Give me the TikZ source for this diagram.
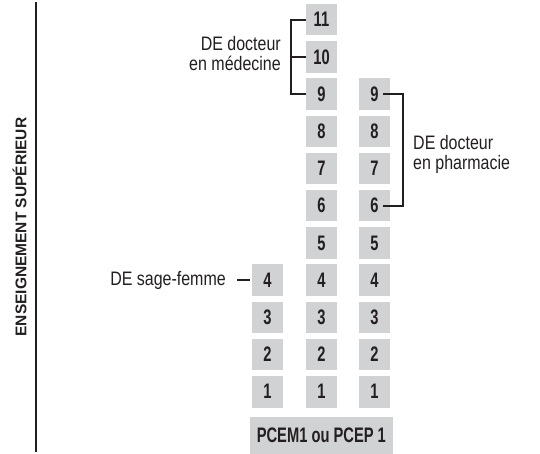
\documentclass[tikz,border=0pt]{standalone}
\usepackage{fontspec}
\setmainfont{Liberation Sans}
\newfontfamily\lblfont{Liberation Sans}[FakeStretch=0.82]
\newfontfamily\numfont{Liberation Sans}[FakeStretch=0.70]
\definecolor{boxgray}{HTML}{D1D2D4}
\definecolor{ink}{HTML}{231F20}
\begin{document}
\begin{tikzpicture}[x=1pt,y=-1pt,
  yr/.style={fill=boxgray, minimum width=31pt, minimum height=31.5pt, inner sep=0pt, text=ink,
             font=\numfont\bfseries\fontsize{21}{21}\selectfont},
  lbl/.style={text=ink, inner sep=0pt, font=\lblfont\fontsize{19.5}{20}\selectfont},
  brk/.style={draw=ink, line width=2pt},
  rule/.style={draw=ink, line width=1.1pt}]
\useasboundingbox (0,0) rectangle (540,454);
% year boxes
\foreach \k in {1,...,4}
  \node[yr] (s\k) at (267.5,{19.75+(11-\k)*37.2}) {\k};
\foreach \k in {1,...,11}
  \node[yr] (m\k) at (321.5,{19.75+(11-\k)*37.2}) {\k};
\foreach \k in {1,...,9}
  \node[yr] (p\k) at (374.5,{19.75+(11-\k)*37.2}) {\k};
% common first year
\node[yr, minimum width=142.7pt, minimum height=37pt, anchor=north] (pc) at (321.35,417)
  {\raisebox{-2.5pt}{PCEM1 ou PCEP 1}};
% side rule and title
\coordinate (rt) at (36,2);
\coordinate (rb) at (36,452);
\draw[rule] (rt) -- (rb);
\node[text=ink, rotate=90, inner sep=0pt, font=\bfseries\fontsize{15.5}{16}\selectfont] (es) at (19.5,227)
  {ENSEIGNEMENT SUPÉRIEUR};
% medicine bracket
\draw[brk] (m11.west) -- ++(-14.5,0) |- (m9.west);
\draw[brk] (m10.west) -- ++(-14.5,0);
\node[lbl, anchor=east, align=right] (ml) at (281,53.5) {DE docteur\\en médecine};
% pharmacy bracket
\draw[brk] ([xshift=-7pt]p9.east) -- ++(19.5,0) |- ([xshift=-7pt]p6.east);
\node[lbl, anchor=west, align=left] (pl) at (413,154) {DE docteur\\en pharmacie};
% midwife
\draw[brk] ([xshift=-2pt]s4.west) -- ++(-13,0) coordinate (sf);
\node[lbl, anchor=east] (sl) at (226,280) {DE sage-femme};
\end{tikzpicture}
\end{document}
